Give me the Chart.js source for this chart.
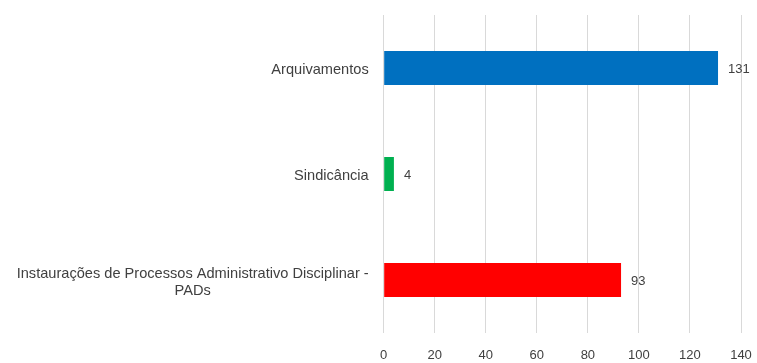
<!DOCTYPE html>
<html>
<head>
<meta charset="utf-8">
<script src="https://cdn.jsdelivr.net/npm/chart.js@4"></script>
<style>
  html, body { margin: 0; padding: 0; background: #ffffff; }
  #wrap { width: 757px; height: 363px; }
</style>
</head>
<body>
<div id="wrap"><canvas id="chart"></canvas></div>
<script>
const categories = [
    ['Arquivamentos'],
    ['Sindicância'],
    ['Instaurações de Processos Administrativo Disciplinar -', 'PADs']
];
const values = [131, 4, 93];
const barColors = ['#0070C0', '#00B050', '#FF0000'];
const xTicks = [0, 20, 40, 60, 80, 100, 120, 140];

const textColor = '#404040';
const fontFamily = 'Liberation Sans, Arial, sans-serif';

// rótulos do eixo Y: bloco alinhado à direita, linhas centralizadas entre si
const yLabelsPlugin = {
    id: 'yLabels',
    afterDraw(chart) {
        const ctx = chart.ctx;
        const yScale = chart.scales.y;
        const right = chart.chartArea.left - 15;
        const lineH = 17;
        ctx.save();
        ctx.font = '14.6px ' + fontFamily;
        ctx.fillStyle = textColor;
        ctx.textAlign = 'center';
        ctx.textBaseline = 'middle';
        categories.forEach((lines, i) => {
            const widest = Math.max(...lines.map(l => ctx.measureText(l).width));
            const cx = right - widest / 2;
            const cy = yScale.getPixelForTick(i) + 2;
            const top = cy - (lines.length - 1) * lineH / 2;
            lines.forEach((l, j) => ctx.fillText(l, cx, top + j * lineH));
        });
        ctx.restore();
    }
};

// valores ao lado das barras
const valueLabelsPlugin = {
    id: 'valueLabels',
    afterDatasetsDraw(chart) {
        const ctx = chart.ctx;
        const meta = chart.getDatasetMeta(0);
        ctx.save();
        ctx.font = '13px ' + fontFamily;
        ctx.fillStyle = textColor;
        ctx.textAlign = 'left';
        ctx.textBaseline = 'middle';
        meta.data.forEach((bar, i) => {
            ctx.fillText(String(values[i]), bar.x + 10, bar.y + 1);
        });
        ctx.restore();
    }
};

new Chart(document.getElementById('chart'), {
    type: 'bar',
    data: {
        labels: categories.map(c => c.join(' ')),
        datasets: [{
            data: values,
            backgroundColor: barColors,
            barPercentage: 0.32,
            categoryPercentage: 1.0
        }]
    },
    options: {
        indexAxis: 'y',
        responsive: true,
        maintainAspectRatio: false,
        animation: false,
        layout: { padding: { left: 383.7, right: 16, top: 15, bottom: 0 } },
        plugins: {
            legend: { display: false },
            tooltip: { enabled: false }
        },
        scales: {
            x: {
                min: 0,
                max: 140,
                afterBuildTicks(scale) {
                    scale.ticks = xTicks.map(v => ({ value: v }));
                },
                afterFit(scale) {
                    scale.height = 30;
                    scale.paddingLeft = 0;
                    scale.paddingRight = 0;
                },
                grid: { color: '#d9d9d9', drawTicks: false },
                border: { display: false },
                ticks: {
                    padding: 15,
                    color: textColor,
                    font: { family: fontFamily, size: 13 }
                }
            },
            y: {
                afterFit(scale) {
                    scale.width = 0;
                },
                grid: { display: false },
                border: { display: false },
                ticks: { display: false }
            }
        }
    },
    plugins: [yLabelsPlugin, valueLabelsPlugin]
});
</script>
</body>
</html>
